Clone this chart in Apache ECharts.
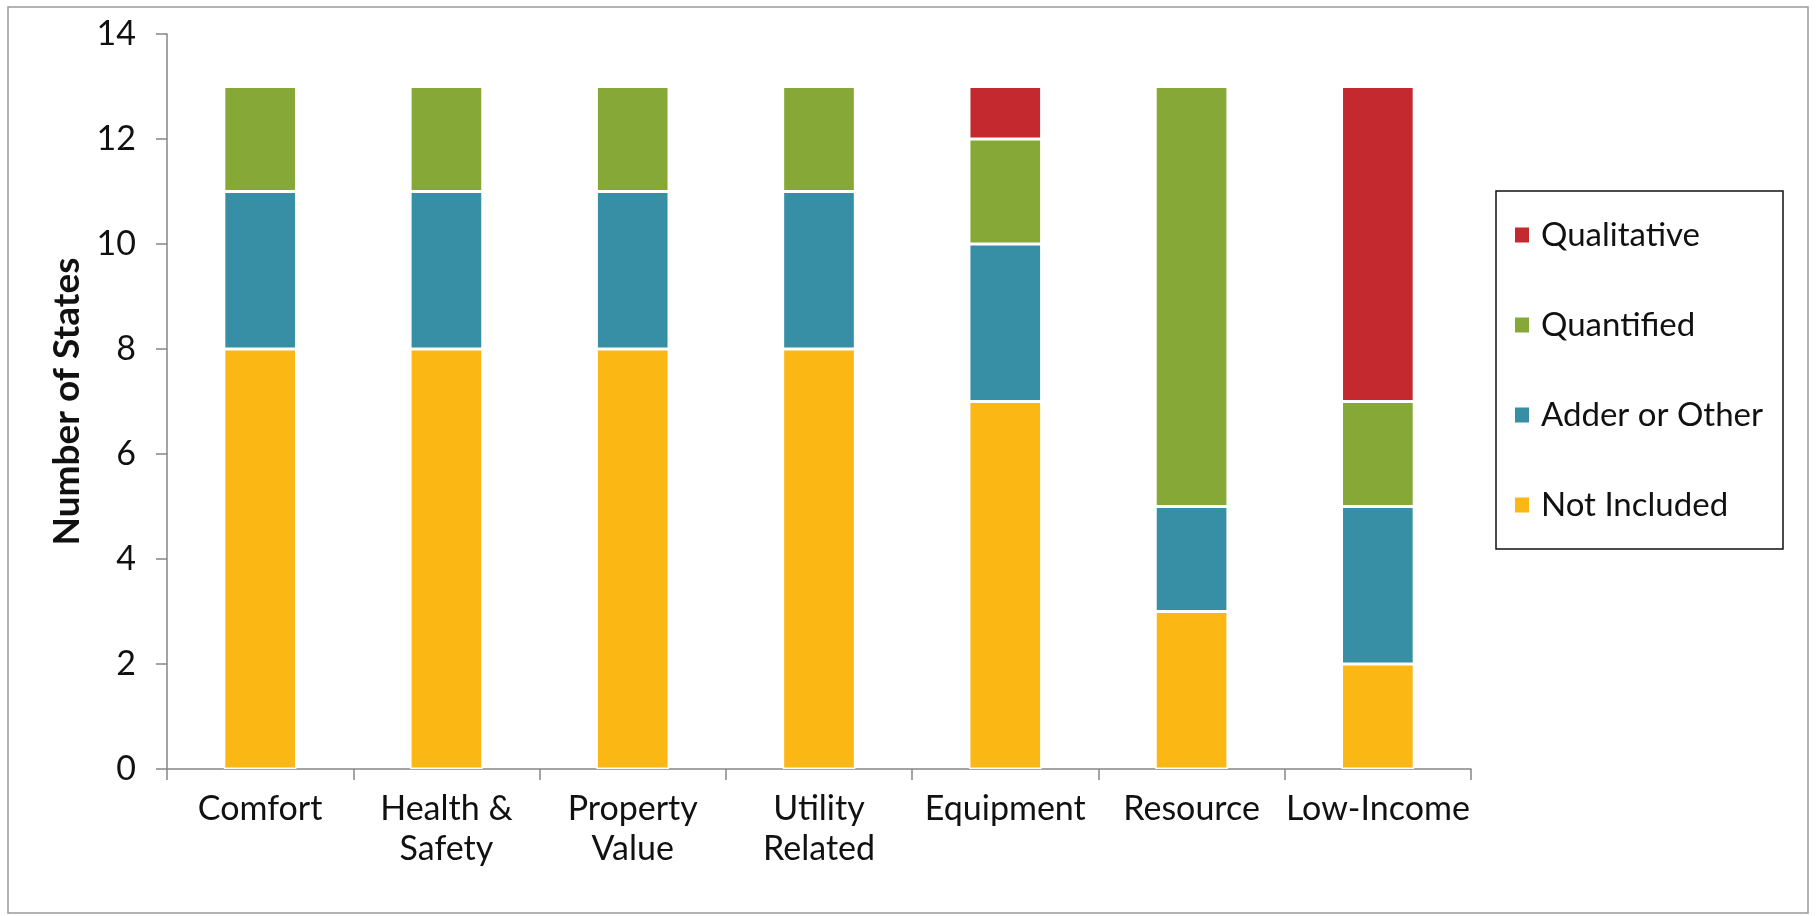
<!DOCTYPE html>
<html>
<head>
<meta charset="utf-8">
<script src="https://cdn.jsdelivr.net/npm/echarts@6/dist/echarts.min.js"></script>
<style>
  html, body { margin: 0; padding: 0; background: #fff; }
  #chart { width: 1816px; height: 916px; }
</style>
</head>
<body>
<div id="chart"></div>
<script>
// Benefit categories on the x axis
const categories = ['Comfort', 'Health &\nSafety', 'Property\nValue', 'Utility\nRelated', 'Equipment', 'Resource', 'Low-Income'];

// Number of states per treatment, stacked bottom to top
const notIncluded = [8, 8, 8, 8, 7, 3, 2];
const adderOrOther = [3, 3, 3, 3, 3, 2, 3];
const quantified = [2, 2, 2, 2, 2, 8, 2];
const qualitative = [0, 0, 0, 0, 1, 0, 6];

const yTicks = [0, 2, 4, 6, 8, 10, 12, 14];

const FONT = 'Lato, "Open Sans", sans-serif';

const chart = echarts.init(document.getElementById('chart'), null, { renderer: 'canvas' });

function barSeries(name, data, color) {
  return {
    name: name,
    type: 'bar',
    stack: 'states',
    data: data,
    barWidth: '39%',
    itemStyle: { color: color, borderColor: '#ffffff', borderWidth: 1.5 }
  };
}

chart.setOption({
  backgroundColor: '#ffffff',
  animation: false,
  graphic: [
    {
      // outer chart frame
      type: 'rect',
      shape: { x: 8, y: 7, width: 1800, height: 906 },
      style: { fill: 'none', stroke: '#9a9a9a', lineWidth: 1.5 },
      silent: true
    },
    {
      // legend frame
      type: 'rect',
      shape: { x: 1496, y: 191, width: 287, height: 358 },
      style: { fill: 'none', stroke: '#111', lineWidth: 1.5 },
      silent: true
    }
  ],
  grid: { left: 167, right: 345, top: 34, bottom: 147, containLabel: false },
  legend: {
    orient: 'vertical',
    left: 1513,
    top: 217,
    data: ['Qualitative', 'Quantified', 'Adder or Other', 'Not Included'],
    icon: 'rect',
    itemWidth: 16,
    itemHeight: 17,
    itemGap: 54,
    padding: 0,
    textStyle: { fontFamily: FONT, fontSize: 33, lineHeight: 36, color: '#111', padding: [0, 0, 0, 6] }
  },
  xAxis: {
    type: 'category',
    data: categories,
    axisLine: { lineStyle: { color: '#868686', width: 1.5 } },
    axisTick: { show: true, length: 11, lineStyle: { color: '#868686', width: 1.5 } },
    axisLabel: { fontFamily: FONT, fontSize: 34, lineHeight: 40, color: '#111', margin: 20, interval: 0 }
  },
  yAxis: {
    type: 'value',
    min: 0,
    max: 14,
    interval: 2,
    name: 'Number of States',
    nameLocation: 'middle',
    nameGap: 79,
    nameTextStyle: { fontFamily: FONT, fontSize: 37, fontWeight: 'bold', color: '#111' },
    splitLine: { show: false },
    axisLine: { show: true, lineStyle: { color: '#868686', width: 1.5 } },
    axisTick: { show: true, length: 11, lineStyle: { color: '#868686', width: 1.5 } },
    axisLabel: {
      fontFamily: FONT, fontSize: 34, color: '#111', margin: 31,
      formatter: function (v) { return yTicks.indexOf(v) >= 0 ? String(v) : ''; }
    }
  },
  series: [
    barSeries('Not Included', notIncluded, '#FBB713'),
    barSeries('Adder or Other', adderOrOther, '#378FA6'),
    barSeries('Quantified', quantified, '#86A836'),
    barSeries('Qualitative', qualitative, '#C3292E')
  ]
});
</script>
</body>
</html>
